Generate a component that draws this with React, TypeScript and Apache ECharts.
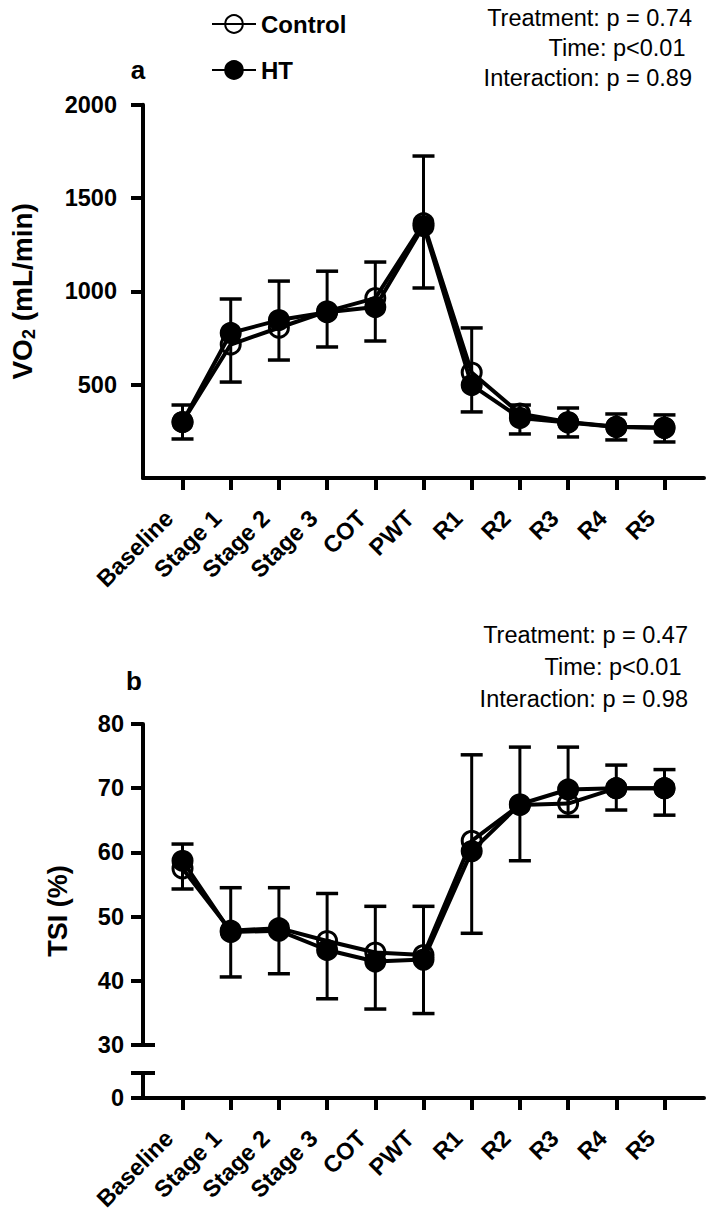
import React, { useEffect, useRef } from 'react';
import * as echarts from 'echarts';

const categories = ['Baseline', 'Stage 1', 'Stage 2', 'Stage 3', 'COT', 'PWT', 'R1', 'R2', 'R3', 'R4', 'R5'];

const vo2Control = [300, 715, 805, 893, 964, 1365, 565, 345, 300, 275, 270];
const vo2ControlSD = [91, 244, 250, 215, 193, 360, 239, 46, 75, 68, 68];
const vo2HT = [300, 777, 846, 888, 916, 1350, 498, 322, 297, 273, 268];
const vo2HTSD = [91, 263, 214, 186, 182, 332, 144, 86, 77, 69, 75];

const tsiControl = [57.5, 47.8, 48.2, 46.2, 44.4, 44.0, 61.8, 67.4, 67.6, 70.0, 70.0];
const tsiControlSD = [3.8, 6.7, 6.3, 7.4, 7.2, 7.6, 13.4, 9.0, 8.8, 3.6, 2.9];
const tsiHT = [58.7, 47.6, 47.8, 44.8, 43.0, 43.3, 60.2, 67.5, 69.8, 70.0, 70.0];
const tsiHTSD = [4.4, 7.0, 6.7, 7.6, 7.4, 8.4, 12.8, 8.8, 4.2, 3.4, 4.2];

const vo2Ticks = [500, 1000, 1500, 2000];
const statsA = ['Treatment: p = 0.74', 'Time: p<0.01 ', 'Interaction: p = 0.89'];
const statsB = ['Treatment: p = 0.47', 'Time: p<0.01 ', 'Interaction: p = 0.98'];

const FONT = '"Liberation Sans", Arial, Helvetica, sans-serif';
const W = 709;
const H = 1219;
const LEFT = 143;
const RIGHT = 5;
const A_TOP = 104.7;
const A_H = 373.3;
const B_TOP = 724;
const B_H = 321;
const C_TOP = 1073;
const C_H = 25;
const X_MIN = -0.82;
const X_MAX = 10.82;
const LABEL_SIZE = 23.5;

const idx = categories.map((_, i) => i);

function xAxisVisible(gridIndex: number) {
  return {
    type: 'value',
    gridIndex,
    min: X_MIN,
    max: X_MAX,
    splitLine: { show: false },
    axisLine: { show: true, onZero: false, lineStyle: { color: '#000', width: 4 } },
    axisTick: { show: true, customValues: idx, length: 12, lineStyle: { color: '#000', width: 4 } },
    axisLabel: {
      show: true,
      customValues: idx,
      formatter: (v: number) => categories[Math.round(v)] ?? '',
      rotate: 45,
      margin: 23,
      padding: [0, 19, 0, 0],
      color: '#000',
      fontSize: LABEL_SIZE,
      fontWeight: 'bold',
      fontFamily: FONT,
    },
  };
}

function errorSeries(name: string, means: number[], sds: number[], dir: number, axisIndex: number) {
  return {
    type: 'custom',
    name,
    xAxisIndex: axisIndex,
    yAxisIndex: axisIndex,
    z: 1,
    silent: true,
    encode: { x: 0, y: 1 },
    data: means.map((m, i) => [i, m, sds[i]]),
    renderItem: (params: any, api: any) => {
      const x = api.value(0);
      const y = api.value(1);
      const e = api.value(2);
      const p0 = api.coord([x, y]);
      const p1 = api.coord([x, y + dir * e]);
      const half = 11;
      return {
        type: 'group',
        children: [
          { type: 'line', shape: { x1: p0[0], y1: p0[1], x2: p1[0], y2: p1[1] }, style: { stroke: '#000', lineWidth: 3 } },
          { type: 'line', shape: { x1: p1[0] - half, y1: p1[1], x2: p1[0] + half, y2: p1[1] }, style: { stroke: '#000', lineWidth: 3.5 } },
        ],
      };
    },
  };
}

function lineSeries(name: string, means: number[], filled: boolean, axisIndex: number) {
  return {
    type: 'line',
    name,
    xAxisIndex: axisIndex,
    yAxisIndex: axisIndex,
    z: filled ? 4 : 3,
    data: means.map((m, i) => [i, m]),
    symbol: 'circle',
    symbolSize: 19,
    lineStyle: { color: '#000', width: 4 },
    itemStyle: { color: filled ? '#000' : 'rgba(0,0,0,0)', borderColor: '#000', borderWidth: 3 },
  };
}

function statTexts(lines: string[], right: number, ys: number[]) {
  return lines.map((t, i) => ({
    type: 'text',
    x: right,
    y: ys[i],
    style: {
      text: t,
      align: 'right',
      verticalAlign: 'middle',
      fontSize: 23.5,
      fontFamily: FONT,
      fill: '#000',
    },
  }));
}

export default function App() {
  const ref = useRef<HTMLDivElement>(null);
  useEffect(() => {
    if (!ref.current) return;
    const chart = echarts.init(ref.current, undefined, { renderer: 'svg' });
    const yLabel = { color: '#000', fontSize: LABEL_SIZE, fontWeight: 'bold', fontFamily: FONT, formatter: (v: number) => String(v) };
    const yBase = {
      type: 'value',
      splitLine: { show: false },
      axisLine: { show: true, onZero: false, lineStyle: { color: '#000', width: 4 } },
    };
    const option: any = {
      animation: false,
      backgroundColor: '#fff',
      textStyle: { fontFamily: FONT },
      legend: {
        data: ['Control', 'HT'],
        orient: 'vertical',
        left: 206,
        top: 7,
        itemGap: 22,
        itemWidth: 44,
        itemHeight: 22,
        selectedMode: false,
        textStyle: { color: '#000', fontSize: 24, fontWeight: 'bold', fontFamily: FONT },
      },
      grid: [
        { left: LEFT, right: RIGHT, top: A_TOP, height: A_H },
        { left: LEFT, right: RIGHT, top: B_TOP, height: B_H },
        { left: LEFT, right: RIGHT, top: C_TOP, height: C_H },
      ],
      xAxis: [
        xAxisVisible(0),
        { type: 'value', gridIndex: 1, min: X_MIN, max: X_MAX, show: false },
        xAxisVisible(2),
      ],
      yAxis: [
        {
          ...yBase,
          gridIndex: 0,
          min: 0,
          max: 2000,
          interval: 500,
          axisTick: { show: true, customValues: vo2Ticks, length: 12, lineStyle: { color: '#000', width: 4 } },
          axisLabel: { ...yLabel, customValues: vo2Ticks, margin: 26 },
        },
        {
          ...yBase,
          gridIndex: 1,
          min: 30,
          max: 80,
          interval: 10,
          axisTick: { show: true, length: 12, lineStyle: { color: '#000', width: 4 } },
          axisLabel: { ...yLabel, margin: 19 },
        },
        {
          ...yBase,
          gridIndex: 2,
          min: 0,
          max: 1,
          interval: 1,
          axisTick: { show: true, length: 12, lineStyle: { color: '#000', width: 4 } },
          axisLabel: { ...yLabel, margin: 19, formatter: (v: number) => (v === 0 ? '0' : '') },
        },
      ],
      series: [
        errorSeries('ctrlErrA', vo2Control, vo2ControlSD, 1, 0),
        errorSeries('htErrA', vo2HT, vo2HTSD, -1, 0),
        lineSeries('Control', vo2Control, false, 0),
        lineSeries('HT', vo2HT, true, 0),
        errorSeries('ctrlErrB', tsiControl, tsiControlSD, 1, 1),
        errorSeries('htErrB', tsiHT, tsiHTSD, -1, 1),
        lineSeries('Control', tsiControl, false, 1),
        lineSeries('HT', tsiHT, true, 1),
      ],
      graphic: [
        {
          type: 'text',
          x: 138,
          y: 70,
          style: { text: 'a', align: 'center', verticalAlign: 'middle', fontSize: 26, fontWeight: 'bold', fontFamily: FONT, fill: '#000' },
        },
        {
          type: 'text',
          x: 134,
          y: 681,
          style: { text: 'b', align: 'center', verticalAlign: 'middle', fontSize: 26, fontWeight: 'bold', fontFamily: FONT, fill: '#000' },
        },
        {
          type: 'text',
          x: 22,
          y: A_TOP + A_H / 2,
          rotation: Math.PI / 2,
          style: {
            text: '{b|VO}{s|2}{b| (mL/min)}',
            align: 'center',
            verticalAlign: 'middle',
            rich: {
              b: { fontSize: 28, fontWeight: 'bold', fontFamily: FONT, fill: '#000' },
              s: { fontSize: 18, fontWeight: 'bold', fontFamily: FONT, fill: '#000', padding: [14, 0, 0, 0] },
            },
          },
        },
        {
          type: 'text',
          x: 58,
          y: (B_TOP + C_TOP + C_H) / 2,
          rotation: Math.PI / 2,
          style: { text: 'TSI (%)', align: 'center', verticalAlign: 'middle', fontSize: 27, fontWeight: 'bold', fontFamily: FONT, fill: '#000' },
        },
        ...statTexts(statsA, 692, [18, 48, 78]),
        ...statTexts(statsB, 688, [635, 667, 699]),
        {
          type: 'line',
          shape: { x1: LEFT, y1: B_TOP + B_H, x2: LEFT + 12, y2: B_TOP + B_H },
          style: { stroke: '#000', lineWidth: 4 },
        },
        {
          type: 'line',
          shape: { x1: LEFT, y1: C_TOP, x2: LEFT + 12, y2: C_TOP },
          style: { stroke: '#000', lineWidth: 4 },
        },
      ],
    };
    chart.setOption(option);
    return () => chart.dispose();
  }, []);
  return <div ref={ref} style={{ position: 'absolute', left: 0, top: 0, width: W, height: H }} />;
}
